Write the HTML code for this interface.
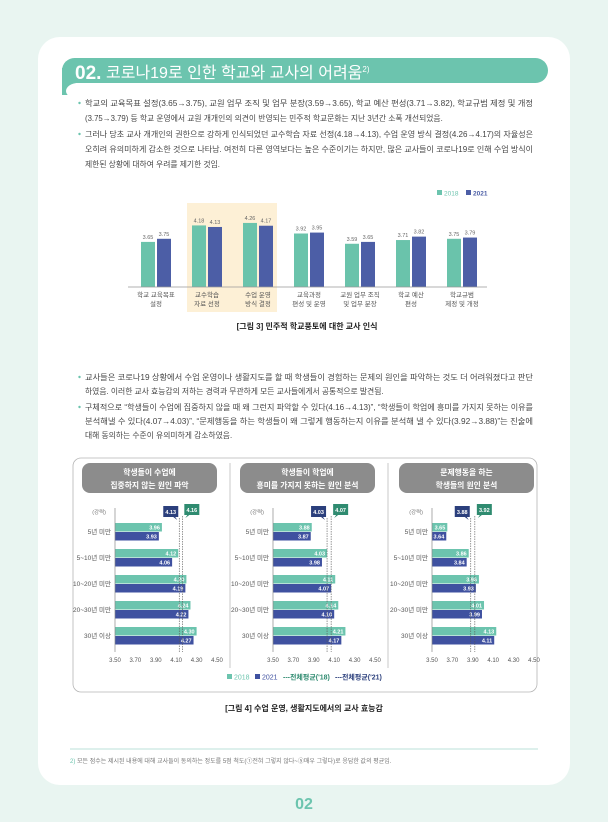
<!DOCTYPE html>
<html><head><meta charset="utf-8"><style>
html,body{margin:0;padding:0;background:#e9f5f1;}
svg{display:block;font-family:"Liberation Sans","Noto Sans CJK KR",sans-serif;}
</style></head><body>
<svg width="608" height="822" viewBox="0 0 608 822" xmlns="http://www.w3.org/2000/svg">
<rect x="0" y="0" width="608" height="822" fill="#e9f5f1"/>
<rect x="38" y="37" width="532" height="748" rx="22" fill="#fff"/>
<!-- title bar -->
<rect x="62" y="58" width="486" height="25" rx="12.5" fill="#6cc4ae"/>
<rect x="62" y="68" width="18" height="27" fill="#6cc4ae"/>
<rect x="66" y="83" width="30" height="16" rx="12" fill="#fff"/>
<rect x="76" y="83" width="20" height="16" fill="#fff"/>
<text x="75" y="79" fill="#fff" font-size="19" font-weight="bold">02.</text>
<text x="106" y="78" fill="#fff" font-size="16">코로나19로 인한 학교와 교사의 어려움<tspan font-size="8" dy="-6">2)</tspan></text>
<!-- block 1 -->
<g font-size="7.8" fill="#444">
<circle cx="79.5" cy="103" r="1.2" fill="#6cc4ae"/>
<text x="85" y="106" textLength="448" lengthAdjust="spacingAndGlyphs">학교의 교육목표 설정(3.65→3.75), 교원 업무 조직 및 업무 분장(3.59→3.65), 학교 예산 편성(3.71→3.82), 학교규범 제정 및 개정</text>
<text x="85" y="121">(3.75→3.79) 등 학교 운영에서 교원 개개인의 의견이 반영되는 민주적 학교문화는 지난 3년간 소폭 개선되었음.</text>
<circle cx="79.5" cy="134" r="1.2" fill="#6cc4ae"/>
<text x="85" y="137" textLength="448" lengthAdjust="spacingAndGlyphs">그러나 당초 교사 개개인의 권한으로 강하게 인식되었던 교수학습 자료 선정(4.18→4.13), 수업 운영 방식 결정(4.26→4.17)의 자율성은</text>
<text x="85" y="152" textLength="448" lengthAdjust="spacingAndGlyphs">오히려 유의미하게 감소한 것으로 나타남. 여전히 다른 영역보다는 높은 수준이기는 하지만, 많은 교사들이 코로나19로 인해 수업 방식이</text>
<text x="85" y="167">제한된 상황에 대하여 우려를 제기한 것임.</text>
</g>
<!-- chart 1 -->
<rect x="187" y="203" width="90" height="109" fill="#fdf0d6"/>
<rect x="437" y="190" width="5" height="5" fill="#6cc4ae"/>
<text x="444" y="195.5" font-size="6.5" fill="#6cc4ae">2018</text>
<rect x="466" y="190" width="5" height="5" fill="#4c5ea6"/>
<text x="473" y="195.5" font-size="6.5" fill="#4c5ea6" font-weight="bold">2021</text>
<g id="c1"></g>
<line x1="128" y1="287" x2="487" y2="287" stroke="#999" stroke-width="0.8"/>
<text x="307" y="329" font-size="8" font-weight="bold" fill="#222" text-anchor="middle">[그림 3] 민주적 학교풍토에 대한 교사 인식</text>
<!-- block 2 -->
<g font-size="7.8" fill="#444">
<circle cx="79.5" cy="377" r="1.2" fill="#6cc4ae"/>
<text x="85" y="380" textLength="448" lengthAdjust="spacingAndGlyphs">교사들은 코로나19 상황에서 수업 운영이나 생활지도를 할 때 학생들이 경험하는 문제의 원인을 파악하는 것도 더 어려워졌다고 판단</text>
<text x="85" y="394">하였음. 이러한 교사 효능감의 저하는 경력과 무관하게 모든 교사들에게서 공통적으로 발견됨.</text>
<circle cx="79.5" cy="407" r="1.2" fill="#6cc4ae"/>
<text x="85" y="410" textLength="448" lengthAdjust="spacingAndGlyphs">구체적으로 “학생들이 수업에 집중하지 않을 때 왜 그런지 파악할 수 있다(4.16→4.13)”, “학생들이 학업에 흥미를 가지지 못하는 이유를</text>
<text x="85" y="424" textLength="448" lengthAdjust="spacingAndGlyphs">분석해낼 수 있다(4.07→4.03)”, “문제행동을 하는 학생들이 왜 그렇게 행동하는지 이유를 분석해 낼 수 있다(3.92→3.88)”는 진술에</text>
<text x="85" y="438">대해 동의하는 수준이 유의미하게 감소하였음.</text>
</g>
<!-- chart 2 box -->
<rect x="73" y="458" width="464" height="234" rx="8" fill="none" stroke="#b5b5b5" stroke-width="0.8"/>
<line x1="230" y1="463" x2="230" y2="668" stroke="#bbb" stroke-width="0.8"/>
<line x1="388" y1="463" x2="388" y2="668" stroke="#bbb" stroke-width="0.8"/>
<g id="panels"></g>
<g font-size="7">
<rect x="227" y="674" width="5" height="5" fill="#6cc4ae"/><text x="234" y="679.5" fill="#6cc4ae">2018</text>
<rect x="255" y="674" width="5" height="5" fill="#3f51a0"/><text x="262" y="679.5" fill="#3f51a0">2021</text>
<text x="283" y="679.5" fill="#2f8b70" font-weight="bold">---전체평균('18)</text>
<text x="335" y="679.5" fill="#2b3f7c" font-weight="bold">---전체평균('21)</text>
</g>
<text x="304" y="711" font-size="8" font-weight="bold" fill="#222" text-anchor="middle">[그림 4] 수업 운영, 생활지도에서의 교사 효능감</text>
<line x1="70" y1="749" x2="538" y2="749" stroke="#a5d9cb" stroke-width="0.8"/>
<text x="70" y="763" font-size="6" fill="#777"><tspan fill="#6cc4ae">2)</tspan> 모든 점수는 제시된 내용에 대해 교사들이 동의하는 정도를 5점 척도(①전혀 그렇지 않다~⑤매우 그렇다)로 응답한 값의 평균임.</text>
<text x="304" y="809" font-size="16" font-weight="bold" fill="#6cc4ae" text-anchor="middle">02</text>
</svg>
<script>
var NS="http://www.w3.org/2000/svg";
function el(p,t,a,txt){var e=document.createElementNS(NS,t);for(var k in a)e.setAttribute(k,a[k]);if(txt!=null)e.textContent=txt;p.appendChild(e);return e;}
var c1=document.getElementById('c1');
var d=[[3.65,3.75,"학교 교육목표","설정"],[4.18,4.13,"교수학습","자료 선정"],[4.26,4.17,"수업 운영","방식 결정"],[3.92,3.95,"교육과정","편성 및 운영"],[3.59,3.65,"교원 업무 조직","및 업무 분장"],[3.71,3.82,"학교 예산","편성"],[3.75,3.79,"학교규범","제정 및 개정"]];
d.forEach(function(g,i){var c=156+51*i;
[[g[0],c-15,"#6ac3ab"],[g[1],c+1,"#4c5ea6"]].forEach(function(b){var h=31.1*(b[0]-2.2);
el(c1,'rect',{x:b[1],y:287-h,width:14,height:h,fill:b[2]});
el(c1,'text',{x:b[1]+7,y:287-h-3,'font-size':5.5,fill:'#666','text-anchor':'middle'},b[0].toFixed(2));});
el(c1,'text',{x:c,y:297,'font-size':6.5,fill:'#555','text-anchor':'middle'},g[2]);
el(c1,'text',{x:c,y:306,'font-size':6.5,fill:'#555','text-anchor':'middle'},g[3]);});
var P=document.getElementById('panels');
var panels=[[115,"학생들이 수업에","집중하지 않는 원인 파악",4.16,4.13,[[3.96,3.93],[4.12,4.06],[4.20,4.19],[4.24,4.22],[4.30,4.27]]],
[273,"학생들이 학업에","흥미를 가지지 못하는 원인 분석",4.07,4.03,[[3.88,3.87],[4.03,3.98],[4.11,4.07],[4.14,4.10],[4.21,4.17]]],
[432,"문제행동을 하는","학생들의 원인 분석",3.92,3.88,[[3.65,3.64],[3.86,3.84],[3.96,3.93],[4.01,3.99],[4.13,4.11]]]];
var rl=["5년 미만","5~10년 미만","10~20년 미만","20~30년 미만","30년 이상"];
panels.forEach(function(p){var x0=p[0];function X(v){return x0+(v-3.5)*102;}
el(P,'rect',{x:x0-33,y:463,width:135,height:30,rx:8,fill:'#8c8c8c'});
el(P,'text',{x:x0+34.5,y:475,'font-size':7.8,'font-weight':'bold',fill:'#fff','text-anchor':'middle'},p[1]);
el(P,'text',{x:x0+34.5,y:488,'font-size':7.8,'font-weight':'bold',fill:'#fff','text-anchor':'middle'},p[2]);
el(P,'text',{x:x0-9,y:514,'font-size':5.5,fill:'#777','text-anchor':'end'},"(강력)");
p[5].forEach(function(r,i){var y=523+26*i;
el(P,'rect',{x:x0,y:y,width:X(r[0])-x0,height:8.5,fill:'#6cc4ae'});
el(P,'rect',{x:x0,y:y+9,width:X(r[1])-x0,height:8.5,fill:'#3f51a0'});
el(P,'text',{x:X(r[0])-2,y:y+6.5,'font-size':5.5,'font-weight':'bold',fill:'#fff','text-anchor':'end'},r[0].toFixed(2));
el(P,'text',{x:X(r[1])-2,y:y+15.5,'font-size':5.5,'font-weight':'bold',fill:'#fff','text-anchor':'end'},r[1].toFixed(2));
el(P,'text',{x:x0-4,y:y+11,'font-size':6.5,fill:'#555','text-anchor':'end'},rl[i]);});
var a18=X(p[3]),a21=X(p[4]);
el(P,'line',{x1:a18,y1:516,x2:a18,y2:652,stroke:'#555','stroke-width':0.6,'stroke-dasharray':'1.5,1'});
el(P,'line',{x1:a21,y1:518,x2:a21,y2:652,stroke:'#555','stroke-width':0.6,'stroke-dasharray':'1.5,1'});
el(P,'line',{x1:x0,y1:508,x2:x0,y2:652,stroke:'#888','stroke-width':0.7});
el(P,'path',{d:'M'+(a21-16)+' 506 h15 v11 h-3 l2 3 l-4 -3 h-10 z',fill:'#2b3f7c'});
el(P,'text',{x:a21-8.5,y:514,'font-size':5.5,'font-weight':'bold',fill:'#fff','text-anchor':'middle'},p[4].toFixed(2));
el(P,'path',{d:'M'+(a18+2)+' 504 h15 v11 h-10 l-4 3 l2 -3 h-3 z',fill:'#2f8b70'});
el(P,'text',{x:a18+9.5,y:512,'font-size':5.5,'font-weight':'bold',fill:'#fff','text-anchor':'middle'},p[3].toFixed(2));
[3.5,3.7,3.9,4.1,4.3,4.5].forEach(function(v){el(P,'text',{x:X(v),y:662,'font-size':6,fill:'#555','text-anchor':'middle'},v.toFixed(2));});
});
</script>
</body></html>
